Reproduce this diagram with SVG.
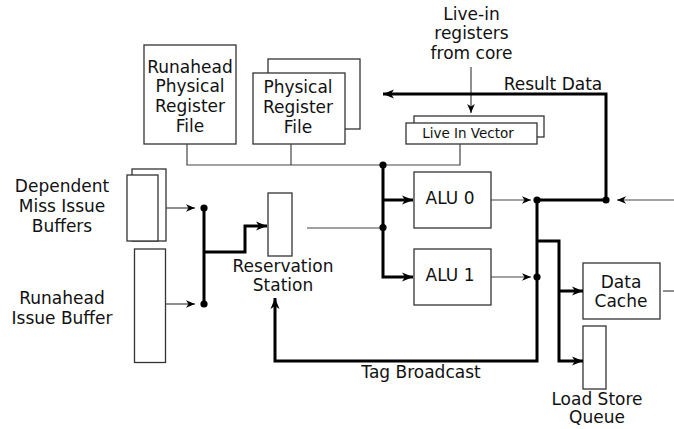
<svg xmlns="http://www.w3.org/2000/svg" width="674" height="429" viewBox="0 0 674 429">
<style>
  .box { fill: #fff; stroke: #333; stroke-width: 1.3; }
  .thin { fill: none; stroke: #444; stroke-width: 1.2; }
  .thick { fill: none; stroke: #000; stroke-width: 3; }
  .dot { fill: #000; }
  text { font-family: "DejaVu Sans", "Liberation Sans", sans-serif; font-size: 17px; fill: #111; text-anchor: middle; }
  .small { font-size: 13.5px; }
</style>
<defs>
  <marker id="ah" markerUnits="userSpaceOnUse" viewBox="-10 -5 11 10" refX="0" refY="0" markerWidth="11" markerHeight="10" orient="auto">
    <path d="M0,0 L-9,-3.8 L-6.5,0 L-9,3.8 Z" fill="#000"/>
  </marker>
  <marker id="ahb" markerUnits="userSpaceOnUse" viewBox="-12 -6 13 12" refX="0" refY="0" markerWidth="13" markerHeight="12" orient="auto">
    <path d="M0,0 L-11,-4.5 L-8,0 L-11,4.5 Z" fill="#000"/>
  </marker>
</defs>

<g id="runahead-prf">
  <rect class="box" x="144" y="45" width="92" height="99"/>
  <text x="190" y="72.5">Runahead</text>
  <text x="190" y="92.3">Physical</text>
  <text x="190" y="112">Register</text>
  <text x="190" y="131.8">File</text>
</g>

<g id="prf">
  <rect class="box" x="268" y="59" width="92" height="70"/>
  <rect class="box" x="253" y="73" width="92" height="71"/>
  <text x="298" y="93.3">Physical</text>
  <text x="298" y="113.3">Register</text>
  <text x="298" y="132.7">File</text>
</g>

<g id="live-in-label">
  <text x="471.5" y="20">Live-in</text>
  <text x="471.5" y="39.3">registers</text>
  <text x="471.5" y="58.5">from core</text>
</g>

<g id="live-in-vector">
  <rect class="box" x="414" y="116" width="130" height="21"/>
  <rect class="box" x="406" y="123" width="131" height="21"/>
  <text class="small" x="468" y="138">Live In Vector</text>
</g>

<g id="dep-miss-buffers">
  <rect class="box" x="132" y="169" width="34" height="72"/>
  <rect class="box" x="127" y="175" width="31" height="66"/>
  <text x="62" y="192.3">Dependent</text>
  <text x="62" y="212.3">Miss Issue</text>
  <text x="62" y="231.7">Buffers</text>
</g>

<g id="runahead-issue-buffer">
  <rect class="box" x="134.5" y="249" width="31" height="113.5"/>
  <text x="62" y="304">Runahead</text>
  <text x="62" y="324">Issue Buffer</text>
</g>

<g id="reservation-station">
  <rect class="box" x="268" y="193" width="24" height="63"/>
  <text x="283" y="272.3">Reservation</text>
  <text x="283" y="290.7">Station</text>
</g>

<g id="alu0">
  <rect class="box" x="414" y="172" width="77" height="56"/>
  <text x="450" y="204.3">ALU 0</text>
</g>

<g id="alu1">
  <rect class="box" x="414" y="249" width="77" height="56"/>
  <text x="450" y="281">ALU 1</text>
</g>

<g id="data-cache">
  <rect class="box" x="583" y="263" width="77" height="56"/>
  <text x="621" y="288">Data</text>
  <text x="621" y="306.7">Cache</text>
</g>

<g id="lsq">
  <rect class="box" x="583" y="326" width="23" height="63"/>
  <text x="597" y="405">Load Store</text>
  <text x="597" y="423.3">Queue</text>
</g>

<g id="connectors">
  <!-- thin -->
  <path class="thin" d="M187,144 V165 H460 V144"/>
  <path class="thin" d="M291,144 V165"/>
  <path class="thin" d="M471,67 V113" marker-end="url(#ah)"/>
  <path class="thin" d="M166,208 H195" marker-end="url(#ah)"/>
  <path class="thin" d="M165.5,304 H195" marker-end="url(#ah)"/>
  <path class="thin" d="M307,228 H383"/>
  <path class="thin" d="M491,200 H531" marker-end="url(#ah)"/>
  <path class="thin" d="M491,277 H531" marker-end="url(#ah)"/>
  <path class="thin" d="M674,200 H617" marker-end="url(#ah)"/>
  <path class="thin" d="M663,291 H674"/>
  <!-- thick -->
  <path class="thick" d="M204,208 V304"/>
  <path class="thick" d="M204,252 H245 V226 H267" marker-end="url(#ahb)"/>
  <path class="thick" d="M383,165 V277 H413" marker-end="url(#ahb)"/>
  <path class="thick" d="M383,200 H413" marker-end="url(#ahb)"/>
  <path class="thick" d="M537,200 H606 V94 H383" marker-end="url(#ahb)"/>
  <path class="thick" d="M537,200 V361 H275 V298" marker-end="url(#ahb)"/>
  <path class="thick" d="M537,241 H559 V361 H583" marker-end="url(#ahb)"/>
  <path class="thick" d="M559,291 H583" marker-end="url(#ahb)"/>
  <!-- junction dots -->
  <circle class="dot" cx="204" cy="208" r="3.6"/>
  <circle class="dot" cx="204" cy="304" r="3.6"/>
  <circle class="dot" cx="383" cy="165" r="3.6"/>
  <circle class="dot" cx="383" cy="227.5" r="3.6"/>
  <circle class="dot" cx="537" cy="200" r="3.6"/>
  <circle class="dot" cx="537" cy="277" r="3.6"/>
  <circle class="dot" cx="606" cy="200" r="3.6"/>
  <text x="553" y="89.5">Result Data</text>
  <text x="421" y="377.7">Tag Broadcast</text>
</g>
</svg>
